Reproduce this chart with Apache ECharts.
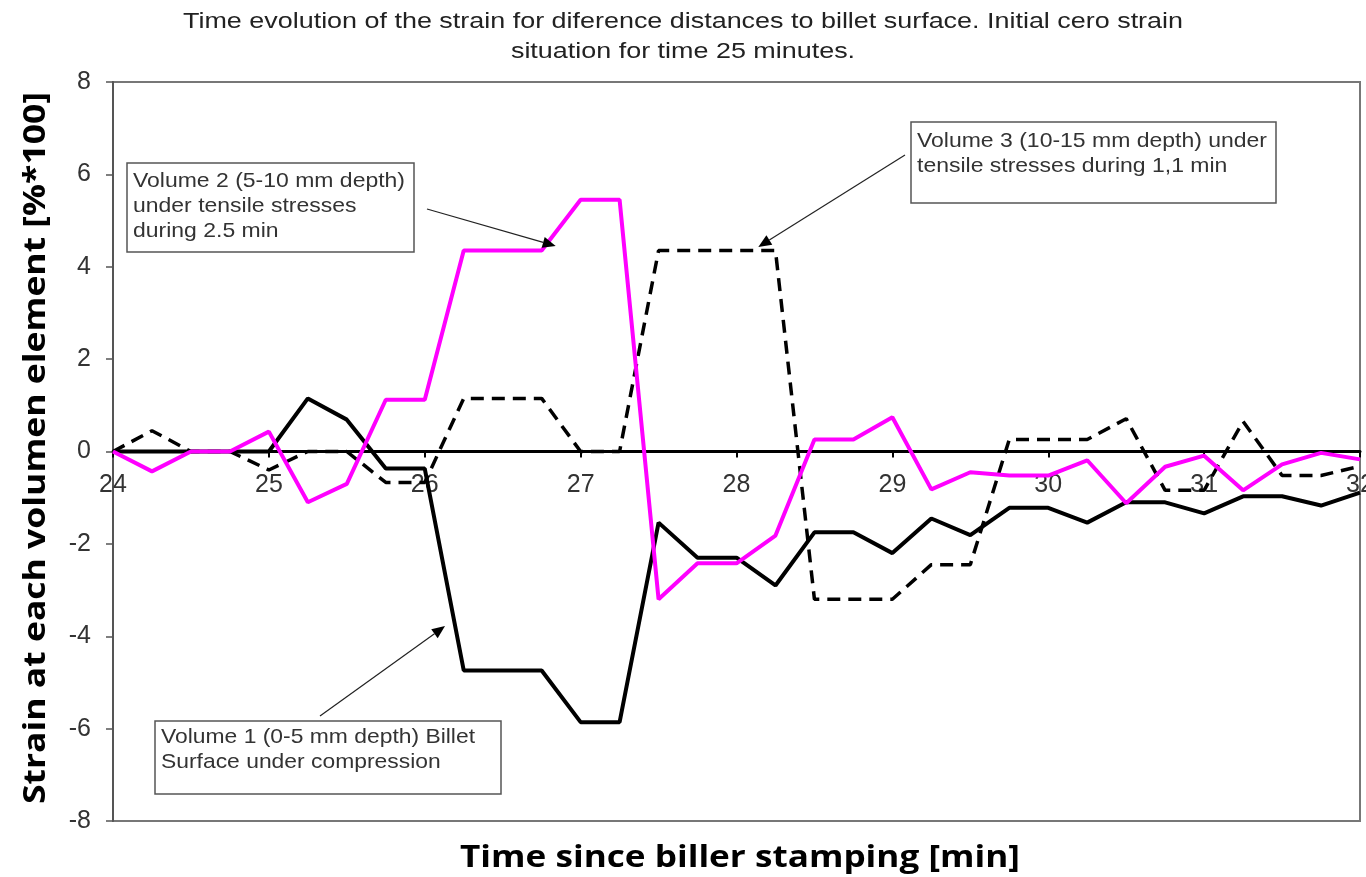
<!DOCTYPE html>
<html>
<head>
<meta charset="utf-8">
<script src="https://cdn.jsdelivr.net/npm/echarts@6/dist/echarts.min.js"></script>
<style>html,body{margin:0;padding:0;background:#fff}#c{width:1366px;height:877px}</style>
</head>
<body>
<div id="c"></div>
<script>
const times = [24,24.25,24.5,24.75,25,25.25,25.5,25.75,26,26.25,26.5,26.75,27,27.25,27.5,27.75,28,28.25,28.5,28.75,29,29.25,29.5,29.75,30,30.25,30.5,30.75,31,31.25,31.5,31.75,32];
const volume1 = [0,0,0,0,0,1.15,0.69,-0.37,-0.37,-4.74,-4.74,-4.74,-5.86,-5.86,-1.54,-2.3,-2.3,-2.9,-1.75,-1.75,-2.2,-1.45,-1.81,-1.22,-1.22,-1.54,-1.1,-1.1,-1.34,-0.97,-0.97,-1.17,-0.89];
const volume2 = [0,-0.43,0,0,0.43,-1.1,-0.7,1.12,1.12,4.35,4.35,4.35,5.45,5.45,-3.2,-2.42,-2.42,-1.82,0.26,0.26,0.74,-0.82,-0.45,-0.52,-0.52,-0.19,-1.12,-0.33,-0.09,-0.84,-0.28,-0.03,-0.17];
const volume3 = [0,0.45,0,0,-0.4,0,0,-0.67,-0.67,1.15,1.15,1.15,0,0,4.35,4.35,4.35,4.35,-3.2,-3.2,-3.2,-2.45,-2.45,0.26,0.26,0.26,0.71,-0.84,-0.84,0.65,-0.52,-0.52,-0.32];
const yTicks = [-8,-6,-4,-2,0,2,4,6,8];
const xTicks = [24,25,26,27,28,29,30,31,32];
const titleLines = ['Time evolution of the strain for diference distances to billet surface. Initial cero strain', 'situation for time 25 minutes.'];
const xName = 'Time since biller stamping [min]';
const yName = 'Strain at each volumen element [%*100]';
const notes = [
  {lines:['Volume 2 (5-10 mm depth)','under tensile stresses','during 2.5 min'], box:[127,163,287,89], textDy:6, lineW:272, tail:[427,209], tip:[26.84,4.45]},
  {lines:['Volume 3 (10-15 mm depth) under','tensile stresses during 1,1 min'], box:[911,122,365,81], textDy:7, lineW:350, tail:[905,155], tip:[28.14,4.43]},
  {lines:['Volume 1 (0-5 mm depth) Billet','Surface under compression'], box:[155,721,346,73], textDy:4, lineW:314, tail:[320,716], tip:[26.13,-3.78]}
];

const pair = arr => times.map((t,i)=>[t,arr[i]]);
const chart = echarts.init(document.getElementById('c'));
const FONT = 'Liberation Sans';
const mctx = document.createElement('canvas').getContext('2d');
function fitScale(text, font, target){ mctx.font = font; return target / mctx.measureText(text).width; }

chart.setOption({
  animation:false,
  backgroundColor:'#fff',
  grid:{left:113, right:6, top:82, bottom:56, containLabel:false, outerBoundsMode:'none', show:true, borderColor:'#777', borderWidth:2, backgroundColor:'transparent'},
  xAxis:{type:'value', min:24, max:32, interval:1, position:'bottom',
    axisLine:{onZero:false, lineStyle:{color:'#000', width:3}},
    axisTick:{show:true, length:6, lineStyle:{color:'#000', width:2}},
    axisLabel:{fontFamily:FONT, fontSize:25, color:'#333', margin:21, formatter:v=>xTicks.includes(v)?String(v):''},
    splitLine:{show:false}},
  yAxis:{type:'value', min:-8, max:8, interval:2,
    axisLine:{show:true, lineStyle:{color:'#555', width:2}},
    axisTick:{show:true, length:7, lineStyle:{color:'#555', width:1.5}},
    axisLabel:{fontFamily:FONT, fontSize:25, color:'#333', margin:22, formatter:v=>yTicks.includes(v)?String(v):''},
    splitLine:{show:false}},
  series:[
    {name:'Volume 1', type:'line', data:pair(volume1), showSymbol:false, lineStyle:{color:'#000', width:4}, z:3},
    {name:'Volume 3', type:'line', data:pair(volume3), showSymbol:false, lineStyle:{color:'#000', width:3.5, type:[13,8]}, z:2},
    {name:'Volume 2', type:'line', data:pair(volume2), showSymbol:false, lineStyle:{color:'#ff00ff', width:4}, z:4}
  ]
});

// move the x axis onto the zero line (its labels follow it)
const zeroPx = chart.convertToPixel({yAxisIndex:0}, 0);
const bottomPx = chart.convertToPixel({yAxisIndex:0}, -8);
chart.setOption({xAxis:{offset: -(bottomPx - zeroPx)}});

function buildGraphics(){
  const els = [];
  const tFont = '22px "Liberation Sans"';
  const tScale = fitScale(titleLines[0], tFont, 1000);
  titleLines.forEach((t,i)=>{
    els.push({type:'text', x:683, y:[22,52][i], scaleX:tScale, style:{text:t, font:tFont, fill:'#222', align:'center', verticalAlign:'middle'}, z:5});
  });
  const nFont = 'bold 30px "Open Sans"';
  els.push({type:'text', x:740, y:858, scaleX:fitScale(xName, nFont, 560), style:{text:xName, font:nFont, fill:'#000', align:'center', verticalAlign:'middle'}, z:5});
  els.push({type:'text', x:36, y:448, rotation:Math.PI/2, scaleX:fitScale(yName, nFont, 712), style:{text:yName, font:nFont, fill:'#000', align:'center', verticalAlign:'middle'}, z:5});
  const aFont = '21px "Liberation Sans"';
  notes.forEach(n=>{
    const [bx,by,bw,bh] = n.box;
    els.push({type:'rect', shape:{x:bx,y:by,width:bw,height:bh}, style:{fill:'#fff', stroke:'#555', lineWidth:1.5}, z:10});
    const s = fitScale(n.lines[0], aFont, n.lineW);
    els.push({type:'text', x:bx+6, y:by+n.textDy, scaleX:s, style:{text:n.lines.join('\n'), font:aFont, fill:'#333', lineHeight:25}, z:11});
    const tip = chart.convertToPixel({gridIndex:0}, n.tip);
    const [tx,ty] = n.tail;
    const ang = Math.atan2(tip[1]-ty, tip[0]-tx);
    const L = 13, W = 5.5;
    const bxp = tip[0]-L*Math.cos(ang), byp = tip[1]-L*Math.sin(ang);
    els.push({type:'line', shape:{x1:tx,y1:ty,x2:bxp,y2:byp}, style:{stroke:'#222', lineWidth:1.2}, z:10});
    els.push({type:'polygon', shape:{points:[[tip[0],tip[1]],[bxp+W*Math.sin(ang),byp-W*Math.cos(ang)],[bxp-W*Math.sin(ang),byp+W*Math.cos(ang)]]}, style:{fill:'#000'}, z:10});
  });
  chart.setOption({graphic:els});
}
buildGraphics();
</script>
</body>
</html>
